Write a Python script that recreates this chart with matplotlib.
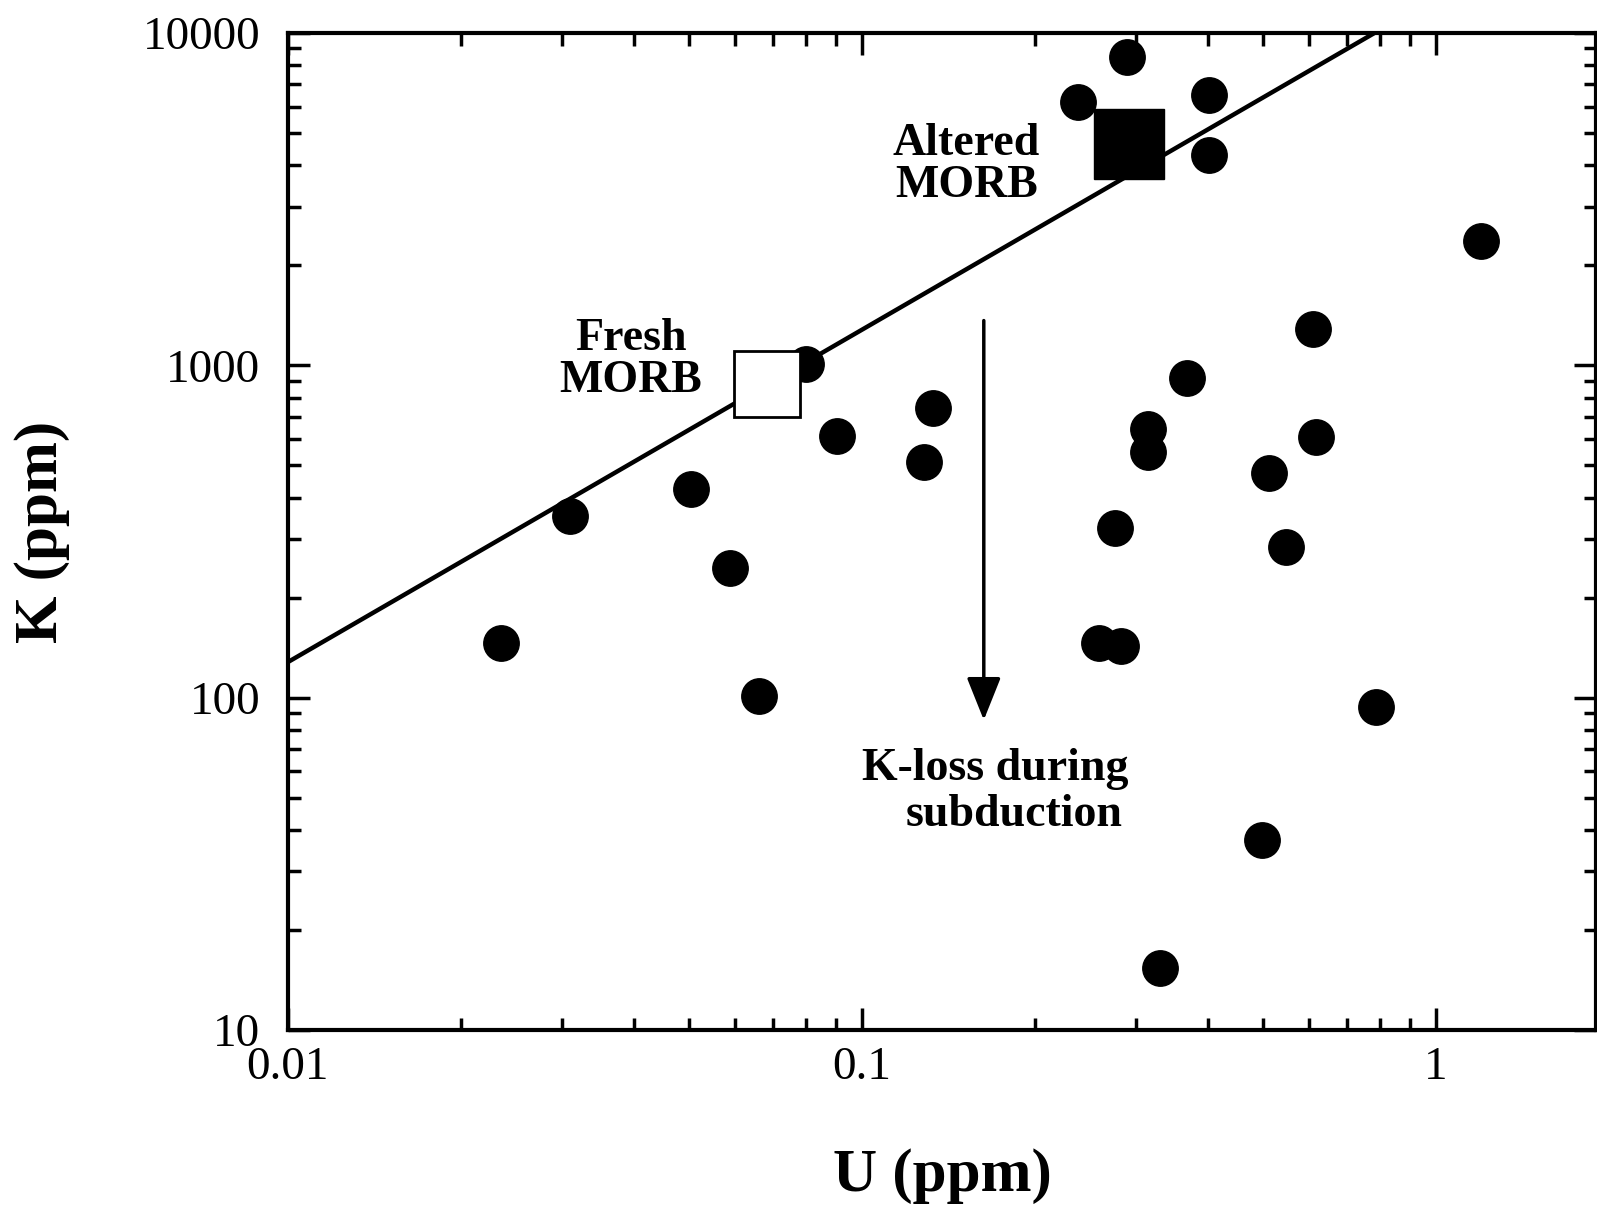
#! /usr/bin/env python
"""
K vs U log-log plot: fresh vs altered MORB, K-loss during subduction.
"""
import matplotlib
matplotlib.use('Agg')
from matplotlib import pyplot as plt
from matplotlib.ticker import FixedLocator, FixedFormatter, LogLocator, NullFormatter

# sample data
u_ppm = [0.0235, 0.031, 0.0504, 0.059, 0.0662, 0.0798, 0.0906, 0.128, 0.133,
         0.238, 0.289, 0.403, 0.403, 1.20, 0.611, 0.368, 0.315, 0.315, 0.618,
         0.512, 0.276, 0.548, 0.259, 0.283, 0.785, 0.497, 0.331]
k_ppm = [146, 352, 425, 246, 101, 1007, 612, 513, 745,
         6210, 8450, 6520, 4300, 2370, 1288, 918, 643, 547, 608,
         475, 323, 284, 146, 143, 94, 37.4, 15.4]

# MORB reference compositions
fresh_u, fresh_k = 0.0683, 881
altered_u, altered_k = 0.292, 4620

# K/U reference line
k_u_ratio = 12800
line_u = [0.01, 2.0]

# K-loss arrow (start, end)
arrow_u = 0.163
arrow_k = [1390, 84]

x_ticks = [0.01, 0.1, 1]
x_labels = ['0.01', '0.1', '1']
y_ticks = [10, 100, 1000, 10000]
y_labels = ['10', '100', '1000', '10000']

serif = ['Liberation Serif', 'DejaVu Serif']
plt.rcParams['font.family'] = serif

fig = plt.figure(figsize=(15.97, 12.06), dpi=100)
ax = fig.add_axes([288 / 1597, 176 / 1206, 1308 / 1597, 997 / 1206])
ax.set_xscale('log')
ax.set_yscale('log')
ax.set_xlim(0.01, 1.9)
ax.set_ylim(10, 10000)

ax.plot(line_u, [k_u_ratio * u for u in line_u], color='black', lw=3.2, zorder=2)
ax.plot(u_ppm, k_ppm, linestyle='none', marker='o', ms=25.5, color='black', zorder=3)
ax.plot([fresh_u], [fresh_k], linestyle='none', marker='s', ms=48, mfc='white',
        mec='black', mew=2, zorder=4)
ax.plot([altered_u], [altered_k], linestyle='none', marker='s', ms=50, color='black', zorder=4)

ax.annotate('', xy=(arrow_u, arrow_k[1]), xytext=(arrow_u, arrow_k[0]),
            arrowprops=dict(arrowstyle='-|>,head_length=0.55,head_width=0.22',
                            mutation_scale=48, lw=2.5, color='black'))

ax.text(0.152, 4020, 'Altered\nMORB', ha='center', va='center', fontsize=33,
        fontweight='bold', linespacing=1.0)
ax.text(0.0396, 1035, 'Fresh\nMORB', ha='center', va='center', fontsize=33,
        fontweight='bold', linespacing=1.0)
ax.text(0.1706, 61, 'K-loss during', ha='center', va='center', fontsize=33, fontweight='bold')
ax.text(0.1840, 44.5, 'subduction', ha='center', va='center', fontsize=33, fontweight='bold')

ax.xaxis.set_major_locator(FixedLocator(x_ticks))
ax.xaxis.set_major_formatter(FixedFormatter(x_labels))
ax.yaxis.set_major_locator(FixedLocator(y_ticks))
ax.yaxis.set_major_formatter(FixedFormatter(y_labels))
ax.xaxis.set_minor_locator(LogLocator(base=10, subs=range(2, 10)))
ax.yaxis.set_minor_locator(LogLocator(base=10, subs=range(2, 10)))
ax.xaxis.set_minor_formatter(NullFormatter())
ax.yaxis.set_minor_formatter(NullFormatter())

ax.tick_params(which='both', direction='in', top=True, right=True, width=2.5)
ax.tick_params(which='major', length=16, labelsize=34)
ax.tick_params(which='minor', length=9)
ax.tick_params(axis='x', which='major', pad=12)
ax.tick_params(axis='y', which='major', pad=20)
for s in ax.spines.values():
    s.set_linewidth(3)

ax.set_xlabel('U (ppm)', fontsize=44, fontweight='bold', labelpad=42)
ax.set_ylabel('K (ppm)', fontsize=44, fontweight='bold', labelpad=52)

plt.savefig('out.png', dpi=100)
